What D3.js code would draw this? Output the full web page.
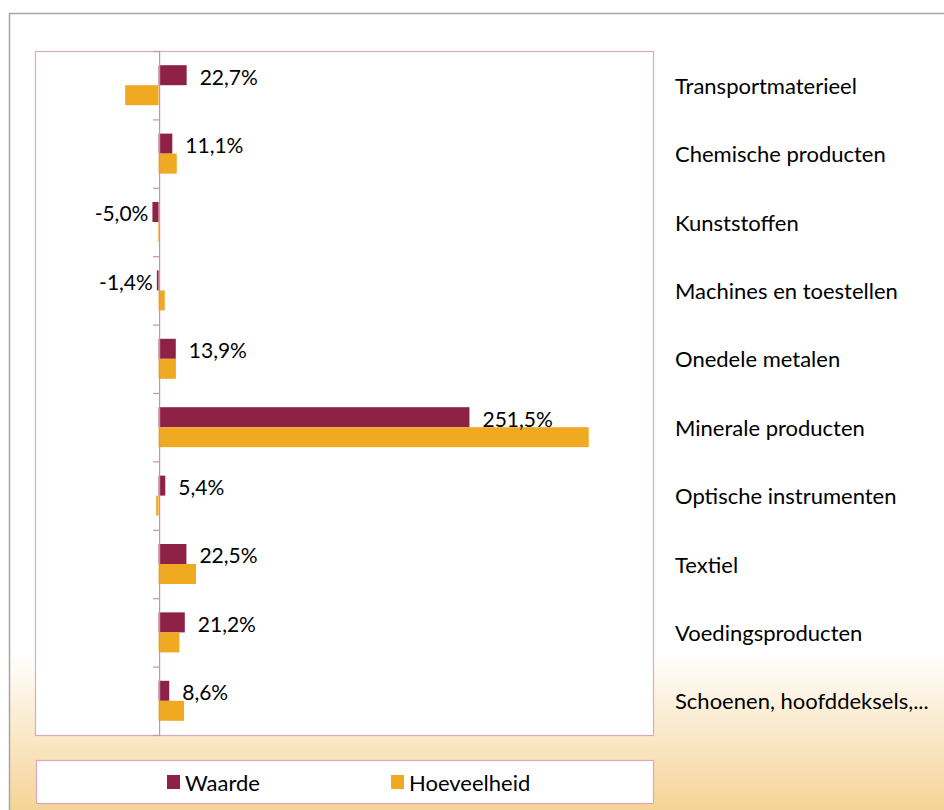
<!DOCTYPE html>
<html>
<head>
<meta charset="utf-8">
<script src="https://cdn.jsdelivr.net/npm/d3@7"></script>
<style>
  body { margin: 0; background: #fff; }
  text { font-family: Lato, "Open Sans", sans-serif; fill: #000; }
</style>
</head>
<body>
<div id="chart"></div>
<script>
/* data */
const categories = [
    "Transportmaterieel",
    "Chemische producten",
    "Kunststoffen",
    "Machines en toestellen",
    "Onedele metalen",
    "Minerale producten",
    "Optische instrumenten",
    "Textiel",
    "Voedingsproducten",
    "Schoenen, hoofddeksels,..."
];
const series = ["Waarde", "Hoeveelheid"];
const waarde = [22.7, 11.1, -5.0, -1.4, 13.9, 251.5, 5.4, 22.5, 21.2, 8.6];
const hoeveelheid = [-27.0, 14.7, -0.6, 5.0, 14.0, 348.0, -2.0, 30.3, 16.8, 20.6];
const colors = ["#8e2146", "#f0aa22"];

const width = 944, height = 810;
const plot = {left: 35, top: 51, right: 653, bottom: 735};

const svg = d3.select("#chart")
    .append("svg")
        .attr("width", width)
        .attr("height", height);

/* background gradient */
const grad = svg.append("defs").append("linearGradient")
    .attr("id", "bg")
    .attr("x1", 0).attr("y1", 0).attr("x2", 0).attr("y2", 1);
grad.append("stop").attr("offset", "0%").attr("stop-color", "#ffffff");
grad.append("stop").attr("offset", "77%").attr("stop-color", "#ffffff");
grad.append("stop").attr("offset", "100%").attr("stop-color", "#f3ca80");

svg.append("rect")
    .attr("x", 9.5).attr("y", 13.5)
    .attr("width", width + 20).attr("height", height + 20)
    .attr("fill", "url(#bg)")
    .attr("stroke", "#a6a6a6")
    .attr("stroke-width", 1.5);

/* plot area */
svg.append("rect")
    .attr("x", plot.left + 0.5).attr("y", plot.top + 0.5)
    .attr("width", plot.right - plot.left).attr("height", plot.bottom - plot.top)
    .attr("fill", "#fff")
    .attr("stroke", "#d9a9bd")
    .attr("stroke-width", 1.2);

/* scales */
const x = d3.scaleLinear().domain([-100, 400]).range([plot.left, plot.right]);
const y = d3.scaleBand().domain(categories).range([plot.top, plot.bottom]);
const yInner = d3.scaleBand().domain(series).range([0, y.bandwidth()]).paddingOuter(0.71);

const rows = categories.map(function(c, i){
    return {cat: c, values: [waarde[i], hoeveelheid[i]]};
});

/* bars */
const groups = svg.append("g")
    .selectAll("g")
    .data(rows)
    .enter().append("g")
        .attr("transform", function(d){ return "translate(0," + y(d.cat) + ")"; });

groups.selectAll("rect")
    .data(function(d){
        return d.values.map(function(v, j){ return {s: series[j], v: v, j: j}; });
    })
    .enter().append("rect")
        .attr("x", function(d){ return x(Math.min(0, d.v)); })
        .attr("y", function(d){ return yInner(d.s); })
        .attr("width", function(d){ return Math.abs(x(d.v) - x(0)); })
        .attr("height", yInner.bandwidth())
        .attr("fill", function(d){ return colors[d.j]; });

/* axis at zero with ticks on category boundaries */
const yTicks = d3.scaleLinear().domain([0, categories.length]).range([plot.top, plot.bottom]);
const axis = svg.append("g")
    .attr("transform", "translate(" + (x(0) + 0.5) + ",0)")
    .call(d3.axisLeft(yTicks).ticks(categories.length).tickFormat("").tickSizeOuter(0).tickSize(6));
axis.selectAll("path, line").attr("stroke", "#cf8fa9").attr("stroke-width", 1.2);

/* value labels (Waarde) */
const fmt = function(v){ return d3.format(".1f")(v).replace("\u2212", "-").replace(".", ",") + "%"; };
groups.append("text")
    .attr("x", function(d){
        const v = d.values[0];
        return v >= 0 ? x(v) + 13 : x(v) - 4;
    })
    .attr("y", yInner("Waarde") + yInner.bandwidth() / 2 + 1)
    .attr("text-anchor", function(d){ return d.values[0] >= 0 ? "start" : "end"; })
    .attr("dominant-baseline", "central")
    .attr("font-size", 21)
    .text(function(d){ return fmt(d.values[0]); });

/* category labels on the right */
svg.append("g")
    .selectAll("text")
    .data(categories)
    .enter().append("text")
        .attr("x", 675)
        .attr("y", function(d){ return y(d) + y.bandwidth() / 2; })
        .attr("dominant-baseline", "central")
        .attr("font-size", 22)
        .text(function(d){ return d; });

/* legend */
svg.append("rect")
    .attr("x", 36.5).attr("y", 760.5)
    .attr("width", 617).attr("height", 43)
    .attr("fill", "#fff")
    .attr("stroke", "#d9a9bd")
    .attr("stroke-width", 1.2);

const legendX = [167, 391];
const legend = svg.append("g")
    .selectAll("g")
    .data(series)
    .enter().append("g")
        .attr("transform", function(d, i){ return "translate(" + legendX[i] + ",775)"; });
legend.append("rect")
    .attr("width", 13).attr("height", 14)
    .attr("fill", function(d, i){ return colors[i]; });
legend.append("text")
    .attr("x", 18)
    .attr("y", 7)
    .attr("dominant-baseline", "central")
    .attr("font-size", 22)
    .text(function(d){ return d; });
</script>
</body>
</html>
